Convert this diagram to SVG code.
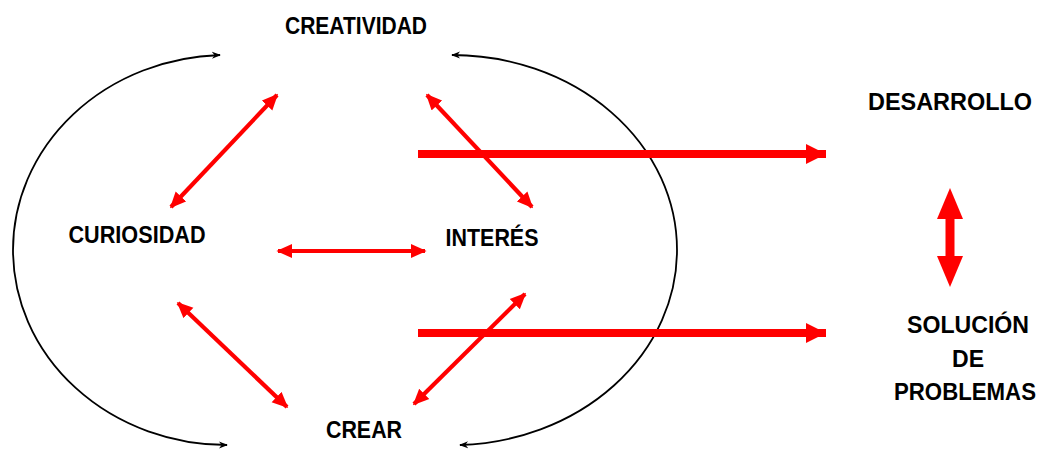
<svg xmlns="http://www.w3.org/2000/svg" width="1047" height="449" viewBox="0 0 1047 449">
<defs>
<style>
.lbl{font-family:"Liberation Sans",Arial,sans-serif;font-weight:bold;font-size:23px;fill:#000;text-anchor:middle}
.big{font-size:24px}
.arc{fill:none;stroke:#000;stroke-width:1.8}
.red{fill:none;stroke:#ff0000;stroke-width:4.2}
.thick{fill:none;stroke:#ff0000;stroke-width:8}
</style>
<marker id="ba" viewBox="0 0 10 10" refX="9" refY="5" markerWidth="9" markerHeight="9" markerUnits="userSpaceOnUse" orient="auto-start-reverse">
<path d="M0,1 L10,5 L0,9 L3,5 Z" fill="#000"/>
</marker>
<marker id="ra" viewBox="0 0 10 10" refX="9" refY="5" markerWidth="16" markerHeight="16" markerUnits="userSpaceOnUse" orient="auto-start-reverse">
<path d="M0,0.5 L10,5 L0,9.5 Z" fill="#ff0000"/>
</marker>
<marker id="rb" viewBox="0 0 10 10" refX="10" refY="5" markerWidth="20" markerHeight="24" markerUnits="userSpaceOnUse" orient="auto">
<path d="M0,0 L10,5 L0,10 Z" fill="#ff0000"/>
</marker>
</defs>
<g id="connectors">
<path class="arc" d="M220,55 A214,195 0 0 0 13,250 A214,195 0 0 0 227,445" marker-start="url(#ba)" marker-end="url(#ba)"/>
<path class="arc" d="M452,55 A225,195 0 0 1 677,250 A225,195 0 0 1 460,445" marker-start="url(#ba)" marker-end="url(#ba)"/>
<line class="red" x1="277" y1="95" x2="171" y2="207" marker-start="url(#ra)" marker-end="url(#ra)"/>
<line class="red" x1="427" y1="95" x2="532" y2="207" marker-start="url(#ra)" marker-end="url(#ra)"/>
<line class="red" x1="278" y1="251" x2="425" y2="251" marker-start="url(#ra)" marker-end="url(#ra)"/>
<line class="red" x1="178" y1="303" x2="287" y2="407" marker-start="url(#ra)" marker-end="url(#ra)"/>
<line class="red" x1="525" y1="294" x2="414" y2="404" marker-start="url(#ra)" marker-end="url(#ra)"/>
<line class="thick" x1="418" y1="154" x2="826" y2="154" marker-end="url(#rb)"/>
<line class="thick" x1="418" y1="333" x2="826" y2="333" marker-end="url(#rb)"/>
<g id="vdouble">
<rect x="945.5" y="215" width="9" height="45" fill="#ff0000"/>
<path d="M950,188 L963,219 L937,219 Z" fill="#ff0000"/>
<path d="M950,287 L963,256 L937,256 Z" fill="#ff0000"/>
</g>
</g>
<g id="creatividad"><text class="lbl" x="356" y="34" textLength="142" lengthAdjust="spacingAndGlyphs">CREATIVIDAD</text></g>
<g id="curiosidad"><text class="lbl" x="137" y="243" textLength="137" lengthAdjust="spacingAndGlyphs">CURIOSIDAD</text></g>
<g id="interes"><text class="lbl" x="492" y="246" textLength="93" lengthAdjust="spacingAndGlyphs">INTERÉS</text></g>
<g id="crear"><text class="lbl" x="364" y="438" textLength="76" lengthAdjust="spacingAndGlyphs">CREAR</text></g>
<g id="desarrollo"><text class="lbl big" x="950" y="110" textLength="164" lengthAdjust="spacingAndGlyphs">DESARROLLO</text></g>
<g id="solucion">
<text class="lbl big" x="968" y="333" textLength="122" lengthAdjust="spacingAndGlyphs">SOLUCIÓN</text>
<text class="lbl big" x="968" y="367" textLength="32" lengthAdjust="spacingAndGlyphs">DE</text>
<text class="lbl" x="965" y="400" textLength="142" lengthAdjust="spacingAndGlyphs">PROBLEMAS</text>
</g>
</svg>
